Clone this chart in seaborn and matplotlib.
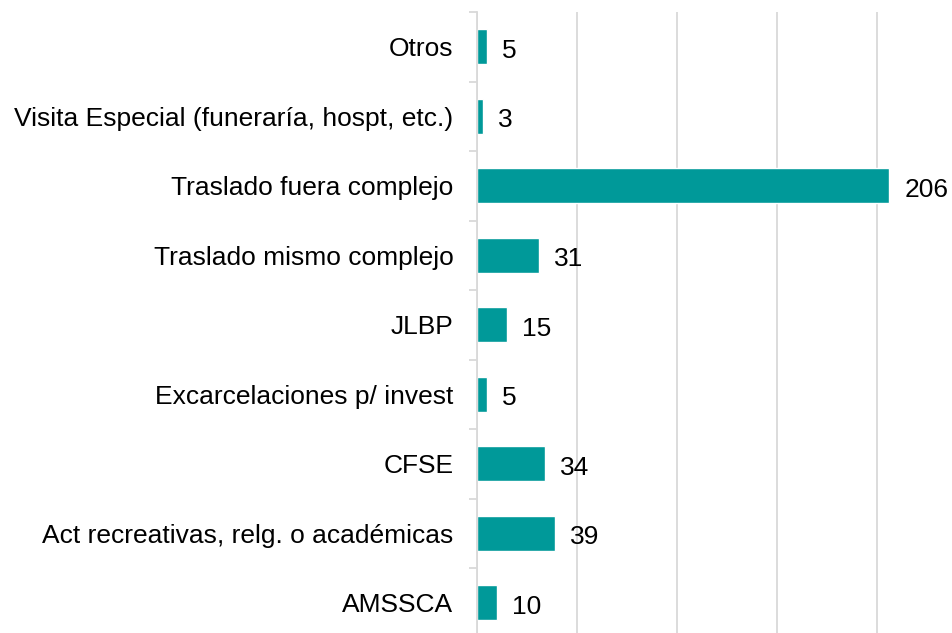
import matplotlib
matplotlib.use("Agg")
import matplotlib.pyplot as plt
import numpy as np
import pandas as pd
import seaborn as sns

categorias = [
    "Otros",
    "Visita Especial (funeraría, hospt, etc.)",
    "Traslado fuera complejo",
    "Traslado mismo complejo",
    "JLBP",
    "Excarcelaciones p/ invest",
    "CFSE",
    "Act recreativas, relg. o académicas",
    "AMSSCA",
]
valores = [5, 3, 206, 31, 15, 5, 34, 39, 10]

df = pd.DataFrame({"categoria": categorias, "valor": valores})

sns.set_theme(style="white")
plt.rcParams["font.family"] = ["Liberation Sans", "DejaVu Sans"]

fig = plt.figure(figsize=(9.53, 6.33), dpi=100)
ax = fig.add_axes([477 / 953, -4.5 / 633, 476 / 953, 625.5 / 633])

color = "#009999"
sns.barplot(data=df, x="valor", y="categoria", orient="h", color=color,
            width=0.5, ax=ax, saturation=1)

ax.set_xlim(0, 238)
ax.set_ylim(len(categorias) - 0.5, -0.5)
ax.set_xticks([0, 50, 100, 150, 200])
ax.set_xticklabels([])
ax.tick_params(axis="x", length=0)
ax.xaxis.grid(True, color="#d9d9d9", linewidth=1.3)
ax.yaxis.grid(False)
ax.set_axisbelow(True)

for s in ["top", "right", "bottom"]:
    ax.spines[s].set_visible(False)
ax.spines["left"].set_color("#d9d9d9")
ax.spines["left"].set_linewidth(1.3)

ax.set_yticks(np.arange(-0.5, len(categorias), 1.0), minor=True)
ax.tick_params(axis="y", which="major", length=0, pad=17, labelsize=19,
               labelcolor="#000000")
ax.tick_params(axis="y", which="minor", length=6, width=1.3, color="#d9d9d9",
               left=True)

ax.set_xlabel("")
ax.set_ylabel("")

for cont in ax.containers:
    anns = ax.bar_label(cont, labels=[str(v) for v in valores], padding=11,
                        fontsize=19, color="#000000")
    for a in anns:
        a.xyann = (11, -3)

fig.savefig("out.png", dpi=100)
